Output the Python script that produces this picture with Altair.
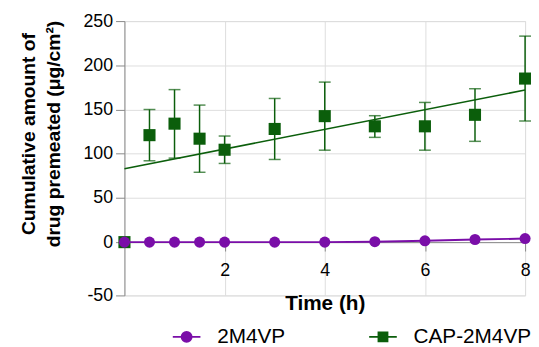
import altair as alt
import pandas as pd

# ---- data ----
time_h = [0, 0.5, 1, 1.5, 2, 3, 4, 5, 6, 7, 8]
cap_mean = [0, 121, 134, 117, 104.5, 128, 142.5, 131, 131, 144, 185]
cap_upper = [0, 150, 172.5, 155, 120, 162.5, 181, 143, 158, 173.5, 233]
cap_lower = [0, 92, 95, 79, 89, 93.5, 104, 118.5, 104, 114, 137]
m2_mean = [0, 0, 0, 0, 0, 0, 0, 0.5, 1.5, 3, 4]
fit_x = [0, 8]
fit_y = [83, 172]
series_names = ["2M4VP", "CAP-2M4VP"]
series_colors = ["#7a0ea8", "#0b5e0b"]
y_ticks = [-50, 0, 50, 100, 150, 200, 250]
x_ticks = [2, 4, 6, 8]

PURPLE, GREEN = series_colors
FONT = "Liberation Sans"
W, H = 406, 278
Y0 = 224  # pixel position of y = 0 inside the plot

cap_df = pd.DataFrame({"t": time_h, "mean": cap_mean, "up": cap_upper, "lo": cap_lower})
err_df = cap_df[cap_df["up"] > cap_df["lo"]]
m2_df = pd.DataFrame({"t": time_h, "mean": m2_mean})
fit_df = pd.DataFrame({"t": fit_x, "v": fit_y})
leg_df = pd.DataFrame({"series": series_names})

xs = alt.Scale(domain=[0, 8], nice=False, zero=False)
ys = alt.Scale(domain=[-50, 0, 250], range=[H, Y0, 0], nice=False, zero=False)

x_axis = alt.Axis(values=x_ticks, title="Time (h)", offset=-(H - Y0), tickSize=9,
                  labelPadding=11, labelFontSize=18, titleFontSize=21, titlePadding=13,
                  labelFlush=False)
y_axis = alt.Axis(values=y_ticks, title=["Cumulative amount of", "drug premeated (μg/cm²)"],
                  labelExpr="'' + datum.value",
                  tickSize=9, labelPadding=3, labelFontSize=18, titleFontSize=19.5,
                  titleLineHeight=25, titleX=-97, titleY=114, titleAngle=-90,
                  titleAlign="center", titleBaseline="middle")

X = alt.X("t:Q", scale=xs, axis=x_axis)

rules = alt.Chart(err_df).mark_rule(color=GREEN, strokeWidth=1.5).encode(
    x=X, y=alt.Y("lo:Q", scale=ys, axis=y_axis), y2="up:Q")
cap_hi = alt.Chart(err_df).mark_tick(color=GREEN, size=12, thickness=1.5, orient="horizontal").encode(
    x=X, y=alt.Y("up:Q", scale=ys))
cap_lo = alt.Chart(err_df).mark_tick(color=GREEN, size=12, thickness=1.5, orient="horizontal").encode(
    x=X, y=alt.Y("lo:Q", scale=ys))
fit = alt.Chart(fit_df).mark_line(color=GREEN, strokeWidth=1.6).encode(
    x=X, y=alt.Y("v:Q", scale=ys))
squares = alt.Chart(cap_df).mark_square(color=GREEN, size=150, opacity=1).encode(
    x=X, y=alt.Y("mean:Q", scale=ys))
m2_line = alt.Chart(m2_df).mark_line(color=PURPLE, strokeWidth=2).encode(
    x=X, y=alt.Y("mean:Q", scale=ys))
circles = alt.Chart(m2_df).mark_circle(color=PURPLE, size=125, opacity=1).encode(
    x=X, y=alt.Y("mean:Q", scale=ys))

circle_path = "M-1,0H1M0.36,0A0.36,0.36,0,1,1,-0.36,0A0.36,0.36,0,1,1,0.36,0Z"
square_path = "M-1,0H1M-0.32,-0.32H0.32V0.32H-0.32Z"
legend = alt.Legend(orient="none", direction="horizontal", title=None,
                    legendX=48, legendY=305, labelFontSize=21, labelFont=FONT,
                    labelFontWeight="normal", labelColor="black",
                    symbolSize=784, symbolStrokeWidth=2, symbolOpacity=1,
                    labelOffset=16, columnPadding=81)
leg_layer = alt.Chart(leg_df).mark_point(filled=True, opacity=0).encode(
    fill=alt.Fill("series:N", scale=alt.Scale(domain=series_names, range=series_colors), legend=legend),
    stroke=alt.Stroke("series:N", scale=alt.Scale(domain=series_names, range=series_colors), legend=legend),
    shape=alt.Shape("series:N", scale=alt.Scale(domain=series_names, range=[circle_path, square_path]), legend=legend),
)

chart = alt.layer(rules, cap_hi, cap_lo, fit, squares, m2_line, circles, leg_layer).properties(
    width=W, height=H,
    autosize=alt.AutoSizeParams(type="none"),
    padding={"left": 118, "top": 11, "right": 6, "bottom": 50},
).configure_view(stroke=None).configure_axis(
    grid=False, domainColor="black", domainWidth=2, tickColor="black", tickWidth=2,
    labelFont=FONT, labelFontWeight="bold", labelColor="black",
    titleFont=FONT, titleFontWeight="bold", titleColor="black",
).configure(background="white")

chart.save("out.html", embed_options={"renderer": "svg", "actions": False})
